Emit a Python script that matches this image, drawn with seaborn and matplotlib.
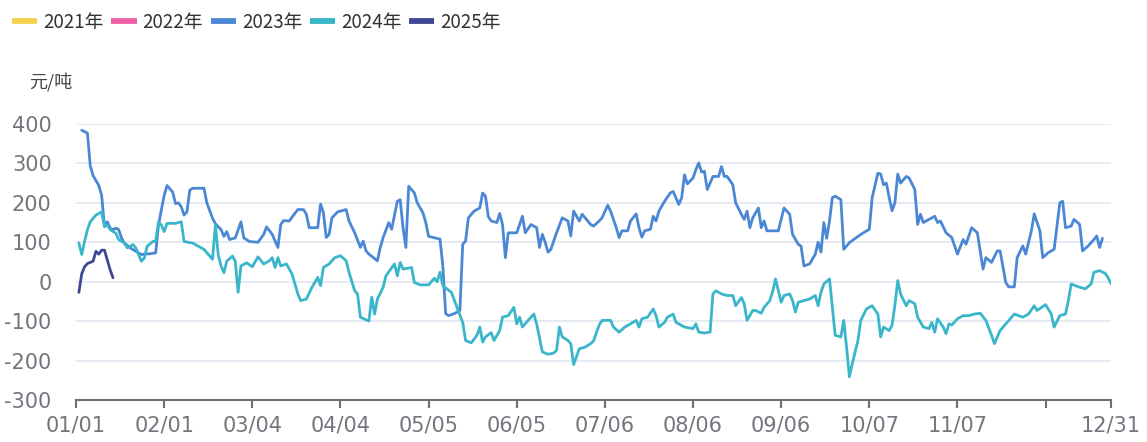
import matplotlib
matplotlib.use("Agg")
import matplotlib.pyplot as plt
from matplotlib.lines import Line2D
import seaborn as sns
import pandas as pd

# ---------------- data ----------------
years = ["2021年", "2022年", "2023年", "2024年", "2025年"]
colors = ["#f4d24f", "#ef5fa8", "#4a87d5", "#3ab6cb", "#3e4893"]

tick_pos = [0, 31, 62, 93, 124, 155, 186, 217, 248, 279, 310, 341, 364]
tick_labels = ["01/01", "02/01", "03/04", "04/04", "05/05", "06/05", "07/06",
               "08/06", "09/06", "10/07", "11/07", "", "12/31"]

d21, v21 = [], []
d22, v22 = [], []

d23 = [2, 4, 5, 6, 8, 9, 10, 11, 12, 13, 14, 15, 16, 17, 19, 21, 23, 26, 28, 29,
       31, 32, 34, 35, 36, 37, 38, 39, 40, 41, 45, 46, 48, 49, 51, 52, 53, 54, 56, 58,
       59, 61, 64, 66, 67, 69, 71, 72, 73, 75, 76, 78, 80, 81, 82, 85, 86, 87, 88, 89,
       90, 92, 95, 96, 98, 100, 101, 102, 103, 106, 107, 108, 110, 111, 113, 114, 115, 116, 117, 119,
       120, 122, 123, 124, 128, 129, 130, 131, 133, 135, 136, 137, 138, 140, 142, 143, 144, 145, 146, 148,
       149, 150, 151, 152, 155, 157, 158, 160, 162, 163, 164, 165, 166, 167, 169, 171, 173, 174, 175, 177,
       178, 181, 182, 184, 185, 187, 188, 190, 191, 192, 194, 195, 197, 198, 199, 200, 202, 203, 204, 205,
       207, 209, 210, 212, 213, 214, 215, 217, 218, 219, 220, 221, 222, 223, 224, 226, 227, 228, 229, 231,
       232, 234, 235, 236, 237, 238, 240, 241, 242, 243, 246, 247, 249, 251, 252, 254, 255, 256, 258, 260,
       261, 262, 263, 264, 265, 266, 267, 269, 270, 272, 276, 279, 280, 282, 283, 284, 285, 286, 287, 288,
       289, 290, 292, 293, 295, 296, 297, 298, 299, 302, 303, 304, 306, 308, 310, 312, 313, 315, 317, 319,
       320, 322, 324, 325, 327, 328, 330, 331, 333, 334, 336, 337, 339, 340, 342, 344, 346, 347, 348, 350,
       351, 353, 354, 356, 358, 359, 360, 361]
v23 = [384, 377, 294, 269, 244, 219, 140, 152, 136, 132, 136, 132, 111, 98, 86, 77, 69, 71, 73, 144,
       219, 244, 227, 198, 200, 190, 169, 177, 232, 237, 237, 200, 161, 147, 132, 115, 127, 107, 111, 152,
       111, 102, 100, 120, 139, 120, 87, 145, 155, 154, 164, 183, 183, 171, 137, 137, 197, 175, 112, 120,
       162, 177, 183, 154, 124, 87, 103, 78, 70, 53, 87, 112, 150, 133, 204, 208, 137, 87, 242, 225,
       200, 175, 150, 115, 108, 40, -81, -86, -81, -73, 95, 103, 162, 179, 187, 225, 217, 165, 154, 150,
       173, 145, 61, 124, 124, 166, 124, 145, 137, 87, 120, 100, 75, 82, 124, 162, 154, 116, 179, 154,
       171, 145, 141, 154, 162, 194, 179, 137, 112, 129, 129, 154, 172, 137, 113, 129, 133, 166, 154, 179,
       204, 225, 229, 196, 213, 271, 248, 263, 284, 301, 278, 280, 234, 250, 267, 267, 292, 267, 267, 246,
       200, 171, 158, 179, 137, 162, 187, 137, 154, 129, 129, 129, 187, 171, 120, 95, 90, 40, 45, 70,
       100, 75, 150, 110, 154, 213, 217, 208, 82, 99, 120, 133, 213, 275, 273, 246, 250, 213, 180, 200,
       273, 250, 267, 263, 234, 145, 171, 150, 154, 166, 150, 154, 124, 112, 70, 107, 95, 137, 124, 32,
       61, 49, 78, 78, -2, -13, -13, 61, 91, 70, 129, 172, 129, 61, 74, 82, 200, 204, 137, 141,
       158, 145, 78, 91, 107, 116, 87, 110]

d24 = [1, 2, 3, 4, 5, 7, 9, 10, 11, 12, 14, 15, 17, 18, 20, 21, 23, 24, 25, 27,
       28, 29, 30, 31, 32, 35, 37, 38, 41, 45, 48, 49, 50, 51, 52, 53, 55, 56, 57, 58,
       60, 62, 64, 66, 68, 69, 70, 71, 72, 74, 76, 78, 79, 81, 83, 85, 86, 87, 89, 91,
       93, 95, 96, 98, 99, 100, 103, 104, 105, 106, 108, 109, 112, 113, 114, 115, 118, 119, 121, 124,
       126, 127, 128, 129, 132, 134, 136, 137, 139, 141, 142, 143, 144, 146, 147, 149, 150, 152, 154, 155,
       156, 157, 159, 161, 162, 164, 166, 168, 169, 170, 171, 173, 174, 175, 177, 179, 181, 182, 183, 184,
       185, 188, 189, 191, 193, 195, 197, 198, 199, 201, 203, 204, 205, 207, 208, 210, 211, 212, 214, 217,
       218, 219, 221, 223, 224, 225, 227, 229, 231, 232, 234, 235, 236, 238, 239, 241, 242, 244, 245, 246,
       247, 248, 249, 251, 252, 253, 254, 256, 258, 260, 261, 262, 263, 265, 266, 267, 269, 270, 271, 272,
       273, 275, 276, 278, 280, 282, 283, 284, 286, 287, 288, 289, 290, 292, 293, 295, 296, 298, 300, 301,
       302, 303, 305, 306, 307, 308, 310, 312, 314, 316, 318, 320, 322, 323, 325, 327, 330, 333, 335, 337,
       338, 340, 341, 343, 344, 346, 348, 349, 350, 353, 355, 357, 358, 360, 362, 363, 364]
v24 = [98, 69, 102, 132, 152, 169, 177, 140, 144, 132, 123, 107, 98, 86, 94, 86, 52, 60, 90, 102,
       102, 152, 144, 127, 148, 148, 152, 102, 98, 82, 57, 144, 69, 40, 23, 52, 65, 52, -27, 40,
       48, 38, 63, 45, 53, 61, 36, 61, 40, 45, 19, -31, -48, -44, -14, 11, -10, 36, 45, 61,
       66, 53, 24, -23, -31, -90, -100, -39, -82, -44, -14, 15, 45, 15, 49, 32, 36, -2, -8, -8,
       9, 0, 24, -10, -27, -65, -103, -149, -155, -136, -115, -153, -140, -129, -149, -124, -90, -86, -65, -107,
       -90, -115, -98, -82, -107, -178, -184, -181, -174, -115, -140, -149, -157, -210, -170, -166, -157, -150, -130, -110,
       -98, -98, -115, -128, -115, -107, -98, -115, -94, -90, -69, -86, -115, -103, -90, -82, -103, -107, -115, -119,
       -107, -128, -130, -128, -31, -23, -31, -35, -35, -61, -40, -56, -98, -73, -73, -80, -65, -48, -25, 7,
       -23, -52, -35, -31, -48, -77, -52, -48, -44, -35, -61, -27, -6, 7, -65, -136, -140, -98, -166, -241,
       -208, -149, -98, -69, -61, -82, -140, -115, -124, -110, -60, 3, -31, -61, -48, -56, -90, -115, -119, -103,
       -128, -94, -115, -132, -107, -110, -94, -86, -86, -82, -80, -98, -136, -157, -124, -107, -82, -90, -82, -61,
       -73, -63, -58, -82, -115, -86, -82, -48, -6, -14, -18, -6, 24, 28, 21, 10, -5]

d25 = [1, 2, 3, 4, 6, 7, 8, 9, 10, 11, 12, 13]
v25 = [-27, 20, 38, 46, 52, 77, 70, 80, 80, 55, 30, 10]

series_days = [d21, d22, d23, d24, d25]
series_vals = [v21, v22, v23, v24, v25]

# ---------------- style ----------------
sns.set_theme(style="white")
plt.rcParams["font.family"] = ["Noto Sans CJK SC", "DejaVu Sans"]
plt.rcParams["axes.unicode_minus"] = False

fig = plt.figure(figsize=(11.47, 4.42), dpi=100)
ax = fig.add_axes([0.0663, 0.095, 0.9023, 0.6245])

for name, col, dd, vv in zip(years, colors, series_days, series_vals):
    if len(dd) == 0:
        continue
    df = pd.DataFrame({"day": dd, "value": vv})
    sns.lineplot(data=df, x="day", y="value", ax=ax, color=col, linewidth=2.0,
                 estimator=None, sort=True, legend=False)

ax.set_xlim(0, 364)
ax.set_ylim(-300, 400)
ax.set_yticks(range(-300, 401, 100))
ax.set_xticks(tick_pos)
ax.set_xticklabels(tick_labels)
ax.set_xlabel("")
ax.set_ylabel("")

ax.grid(axis="y", color="#e0e6f1", linewidth=1.2)
ax.grid(axis="x", visible=False)
for s in ["top", "right", "left"]:
    ax.spines[s].set_visible(False)
ax.spines["bottom"].set_color("#6e7079")
ax.spines["bottom"].set_linewidth(1.5)
ax.tick_params(axis="x", bottom=True, length=6, width=1.5, color="#6e7079",
               labelsize=15, labelcolor="#74757d", pad=5)
ax.tick_params(axis="y", left=False, labelsize=15, labelcolor="#74757d", pad=11.5)
for lab in ax.get_xticklabels() + ax.get_yticklabels():
    lab.set_family(["DejaVu Sans"])

handles = [Line2D([0], [0], color=c, linewidth=4.2, solid_capstyle="butt") for c in colors]
fig.legend(handles, years, loc="center left", bbox_to_anchor=(0.0105, 0.950), ncol=5,
           frameon=False, fontsize=13.5, handlelength=1.35, handletextpad=0.32,
           columnspacing=0.4, borderpad=0, borderaxespad=0, labelcolor="#333333")

fig.text(0.0253, 0.8145, "元/吨", fontsize=13, color="#444444", ha="left", va="center")

fig.savefig("out.png", dpi=100)
